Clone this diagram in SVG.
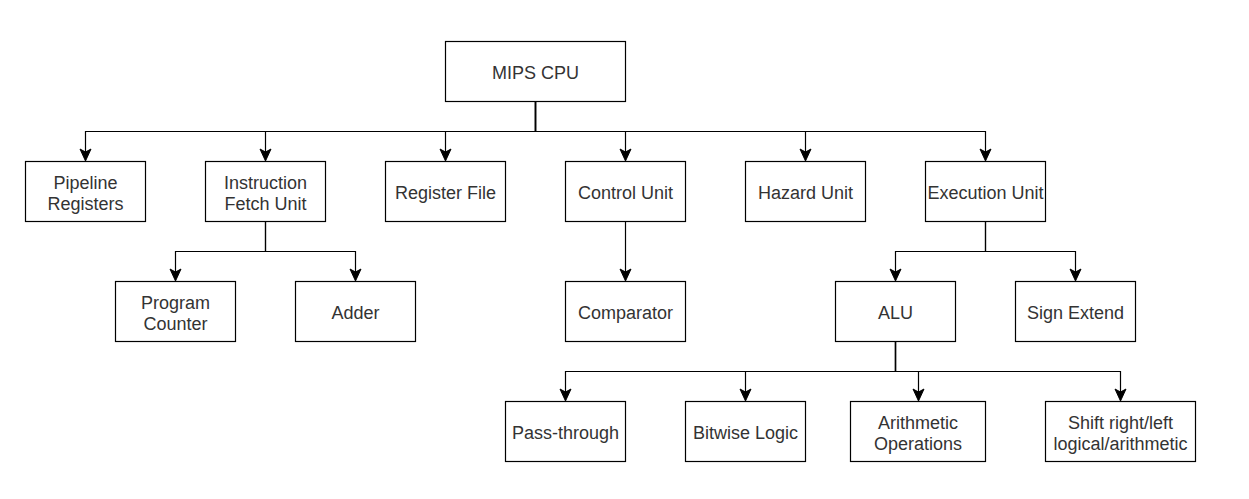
<svg xmlns="http://www.w3.org/2000/svg" width="1249" height="499" viewBox="0 0 1249 499">
<style>
.box{fill:#fff;stroke:#000;stroke-width:1.2}
.lbl{font-family:"Liberation Sans",Arial,sans-serif;font-size:18px;fill:#333;text-anchor:middle}
.edge{fill:none;stroke:#000;stroke-width:1.2}
.head{fill:#000;stroke:#000;stroke-width:1}
</style>
<defs>
<path id="ah" d="M0,0 L-5.5,-12 L0,-9 L5.5,-12 Z"/>
</defs>
<rect width="1249" height="499" fill="#fff"/>
<g id="connectors">
<path class="edge" d="M535.5,101.5 V131.5 H85.5 V152"/>
<path class="edge" d="M535.5,101.5 V131.5 H265.5 V152"/>
<path class="edge" d="M535.5,101.5 V131.5 H445.5 V152"/>
<path class="edge" d="M535.5,101.5 V131.5 H625.5 V152"/>
<path class="edge" d="M535.5,101.5 V131.5 H805.5 V152"/>
<path class="edge" d="M535.5,101.5 V131.5 H985.5 V152"/>
<path class="edge" d="M265.5,221.5 V251.5 H175.5 V272"/>
<path class="edge" d="M265.5,221.5 V251.5 H355.5 V272"/>
<path class="edge" d="M625.5,221.5 V272"/>
<path class="edge" d="M985.5,221.5 V251.5 H895.5 V272"/>
<path class="edge" d="M985.5,221.5 V251.5 H1075.5 V272"/>
<path class="edge" d="M895.5,341.5 V371.5 H565.5 V392"/>
<path class="edge" d="M895.5,341.5 V371.5 H745.5 V392"/>
<path class="edge" d="M895.5,341.5 V371.5 H918.5 V392"/>
<path class="edge" d="M895.5,341.5 V371.5 H1120.5 V392"/>
<use href="#ah" class="head" x="85.5" y="161"/>
<use href="#ah" class="head" x="265.5" y="161"/>
<use href="#ah" class="head" x="445.5" y="161"/>
<use href="#ah" class="head" x="625.5" y="161"/>
<use href="#ah" class="head" x="805.5" y="161"/>
<use href="#ah" class="head" x="985.5" y="161"/>
<use href="#ah" class="head" x="175.5" y="281"/>
<use href="#ah" class="head" x="355.5" y="281"/>
<use href="#ah" class="head" x="625.5" y="281"/>
<use href="#ah" class="head" x="895.5" y="281"/>
<use href="#ah" class="head" x="1075.5" y="281"/>
<use href="#ah" class="head" x="565.5" y="401"/>
<use href="#ah" class="head" x="745.5" y="401"/>
<use href="#ah" class="head" x="918.5" y="401"/>
<use href="#ah" class="head" x="1120.5" y="401"/>
</g>
<g id="mips"><rect class="box" x="445.5" y="41.5" width="180" height="60"/><text class="lbl" x="535.5" y="78.5">MIPS CPU</text></g>
<g id="pipeline"><rect class="box" x="25.5" y="161.5" width="120" height="60"/><text class="lbl" x="85.5" y="189">Pipeline</text><text class="lbl" x="85.5" y="209.5">Registers</text></g>
<g id="ifu"><rect class="box" x="205.5" y="161.5" width="120" height="60"/><text class="lbl" x="265.5" y="189">Instruction</text><text class="lbl" x="265.5" y="209.5">Fetch Unit</text></g>
<g id="regfile"><rect class="box" x="385.5" y="161.5" width="120" height="60"/><text class="lbl" x="445.5" y="198.5">Register File</text></g>
<g id="control"><rect class="box" x="565.5" y="161.5" width="120" height="60"/><text class="lbl" x="625.5" y="198.5">Control Unit</text></g>
<g id="hazard"><rect class="box" x="745.5" y="161.5" width="120" height="60"/><text class="lbl" x="805.5" y="198.5">Hazard Unit</text></g>
<g id="exec"><rect class="box" x="925.5" y="161.5" width="120" height="60"/><text class="lbl" x="985.5" y="198.5">Execution Unit</text></g>
<g id="pc"><rect class="box" x="115.5" y="281.5" width="120" height="60"/><text class="lbl" x="175.5" y="309">Program</text><text class="lbl" x="175.5" y="329.5">Counter</text></g>
<g id="adder"><rect class="box" x="295.5" y="281.5" width="120" height="60"/><text class="lbl" x="355.5" y="318.5">Adder</text></g>
<g id="comparator"><rect class="box" x="565.5" y="281.5" width="120" height="60"/><text class="lbl" x="625.5" y="318.5">Comparator</text></g>
<g id="alu"><rect class="box" x="835.5" y="281.5" width="120" height="60"/><text class="lbl" x="895.5" y="318.5">ALU</text></g>
<g id="signext"><rect class="box" x="1015.5" y="281.5" width="120" height="60"/><text class="lbl" x="1075.5" y="318.5">Sign Extend</text></g>
<g id="pass"><rect class="box" x="505.5" y="401.5" width="120" height="60"/><text class="lbl" x="565.5" y="438.5">Pass-through</text></g>
<g id="bitwise"><rect class="box" x="685.5" y="401.5" width="120" height="60"/><text class="lbl" x="745.5" y="438.5">Bitwise Logic</text></g>
<g id="arith"><rect class="box" x="850.5" y="401.5" width="135" height="60"/><text class="lbl" x="918" y="429">Arithmetic</text><text class="lbl" x="918" y="449.5">Operations</text></g>
<g id="shift"><rect class="box" x="1045.5" y="401.5" width="150" height="60"/><text class="lbl" x="1120.5" y="429">Shift right/left</text><text class="lbl" x="1120.5" y="449.5">logical/arithmetic</text></g>
</svg>
